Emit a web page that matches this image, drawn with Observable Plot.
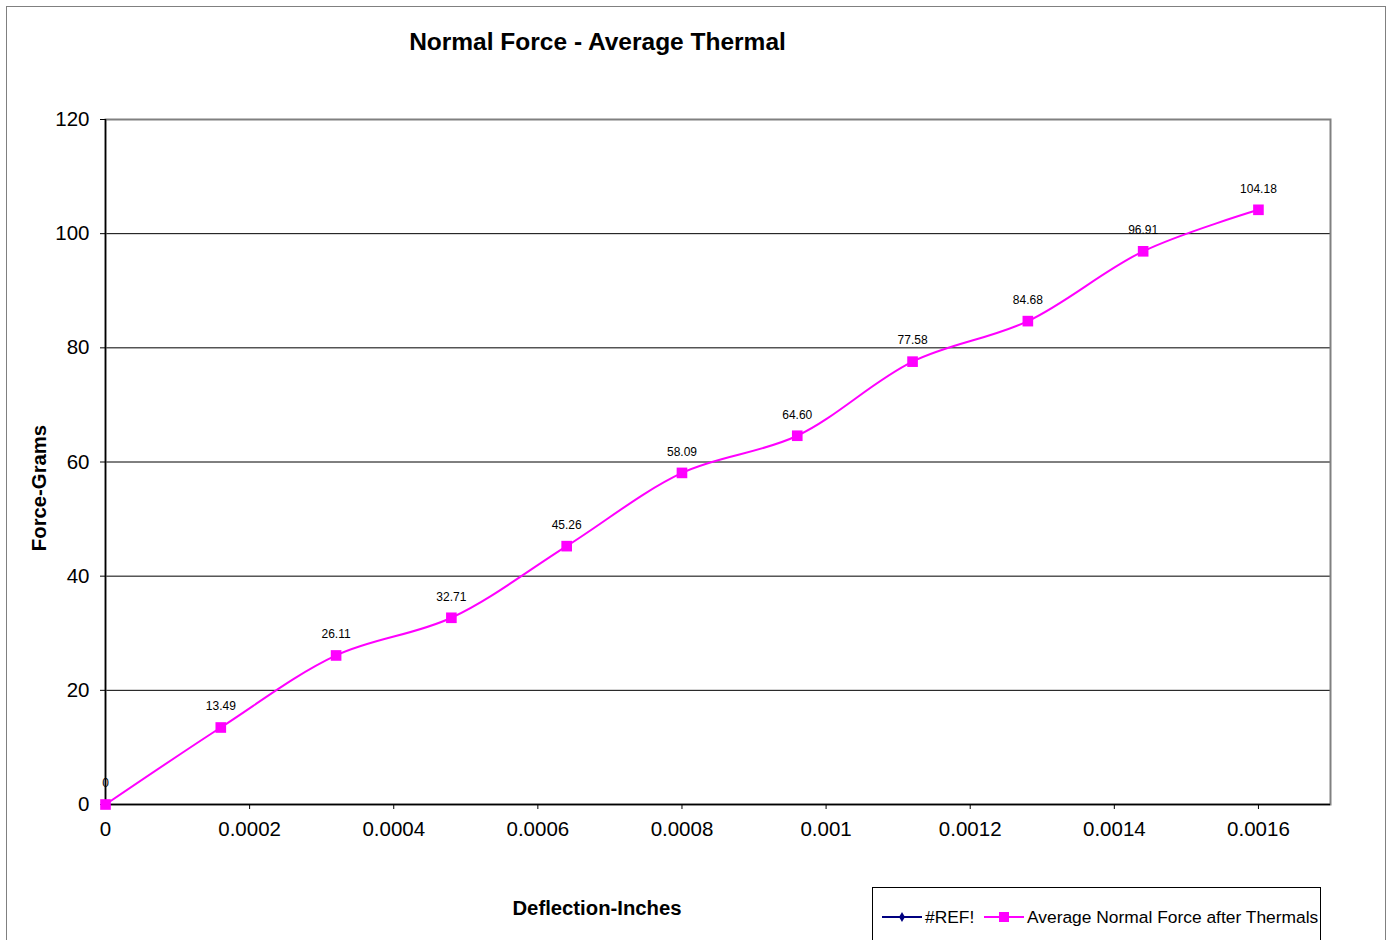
<!DOCTYPE html>
<html>
<head>
<meta charset="utf-8">
<script src="https://cdn.jsdelivr.net/npm/d3@7"></script>
<script src="https://cdn.jsdelivr.net/npm/@observablehq/plot@0.6"></script>
<style>
  body { margin: 0; background: #fff; font-family: "Liberation Sans", Arial, sans-serif; }
  #wrap { position: relative; width: 1395px; height: 940px; overflow: hidden; }
  #border { position: absolute; left: 6px; top: 6px; width: 1380px; height: 960px; border: 1px solid #808080; box-sizing: border-box; }
  #title { position: absolute; left: 0; width: 1195px; top: 28px; text-align: center; font-weight: bold; font-size: 24.5px; color: #000; }
  #ylabel { position: absolute; left: 39px; top: 488px; transform: translate(-50%, -50%) rotate(-90deg); font-weight: bold; font-size: 20.3px; white-space: nowrap; }
  #xlabel { position: absolute; left: 597px; top: 908px; transform: translate(-50%, -50%); font-weight: bold; font-size: 20.3px; white-space: nowrap; }
  #legend { position: absolute; left: 872px; top: 887px; width: 449px; height: 80px; border: 1px solid #000; box-sizing: border-box; background: #fff; }
  #legend svg { position: absolute; left: 0; top: 0; }
  #plot { position: absolute; left: 0; top: 0; }
</style>
</head>
<body>
<div id="wrap">
  <div id="border"></div>
  <div id="plot"></div>
  <div id="title">Normal Force - Average Thermal</div>
  <div id="ylabel">Force-Grams</div>
  <div id="xlabel">Deflection-Inches</div>
  <div id="legend"></div>
</div>
<script>
const deflection = [0, 0.00016, 0.00032, 0.00048, 0.00064, 0.0008, 0.00096, 0.00112, 0.00128, 0.00144, 0.0016];
const force = [0, 13.49, 26.11, 32.71, 45.26, 58.09, 64.60, 77.58, 84.68, 96.91, 104.18];
const forceLabels = ["0", "13.49", "26.11", "32.71", "45.26", "58.09", "64.60", "77.58", "84.68", "96.91", "104.18"];
const xTicks = [0, 0.0002, 0.0004, 0.0006, 0.0008, 0.001, 0.0012, 0.0014, 0.0016];
const xTickLabels = ["0", "0.0002", "0.0004", "0.0006", "0.0008", "0.001", "0.0012", "0.0014", "0.0016"];
const yTicks = [0, 20, 40, 60, 80, 100, 120];
const gridLines = [20, 40, 60, 80, 100];
const seriesNames = ["#REF!", "Average Normal Force after Thermals"];
const seriesColors = ["#000080", "#FF00FF"];

const data = deflection.map((d, i) => ({x: d, y: force[i], label: forceLabels[i]}));

const chart = Plot.plot({
  width: 1395,
  height: 940,
  marginLeft: 105,
  marginRight: 65,
  marginTop: 119,
  marginBottom: 136,
  style: {fontFamily: "Liberation Sans, Arial, sans-serif", background: "transparent", overflow: "visible"},
  x: {domain: [0, 0.0017]},
  y: {domain: [0, 120]},
  marks: [
    Plot.ruleY(gridLines, {stroke: "#000", strokeWidth: 1}),
    Plot.frame({stroke: "#808080", strokeWidth: 2}),
    Plot.ruleY([0], {stroke: "#000", strokeWidth: 1.5}),
    Plot.ruleX([0], {stroke: "#000", strokeWidth: 1.5}),
    Plot.axisX({ticks: xTicks, tickFormat: (d, i) => xTickLabels[i], tickSize: 5, tickPadding: 12, fontSize: 20.5, stroke: "#000", color: "#000", label: null}),
    Plot.axisY({ticks: yTicks, tickSize: 5, tickPadding: 11, fontSize: 20.5, stroke: "#000", color: "#000", label: null}),
    Plot.line(data, {x: "x", y: "y", curve: "catmull-rom", stroke: seriesColors[1], strokeWidth: 2}),
    Plot.dot(data, {x: "x", y: "y", symbol: "square", r: 6, fill: seriesColors[1], stroke: "none"}),
    Plot.text(data, {x: "x", y: "y", text: "label", dy: -21, fontSize: 12, fill: "#000"})
  ]
});
document.getElementById("plot").appendChild(chart);

// legend
const leg = d3.select("#legend").append("svg").attr("width", 449).attr("height", 80);
const items = [
  {name: seriesNames[0], color: seriesColors[0], sym: "diamond", x0: 9},
  {name: seriesNames[1], color: seriesColors[1], sym: "square", x0: 111}
];
items.forEach(it => {
  const g = leg.append("g");
  g.append("line").attr("x1", it.x0).attr("x2", it.x0 + 40).attr("y1", 29).attr("y2", 29).attr("stroke", it.color).attr("stroke-width", 2);
  if (it.sym === "diamond") {
    g.append("path").attr("d", d3.symbol(d3.symbolDiamond, 30)()).attr("transform", `translate(${it.x0 + 20},29)`).attr("fill", it.color);
  } else {
    g.append("rect").attr("x", it.x0 + 15).attr("y", 24).attr("width", 10).attr("height", 10).attr("fill", it.color);
  }
  g.append("text").attr("x", it.x0 + 43).attr("y", 35).attr("font-size", 17.4).attr("font-family", "Liberation Sans, Arial, sans-serif").attr("fill", "#000").text(it.name);
});
</script>
</body>
</html>
